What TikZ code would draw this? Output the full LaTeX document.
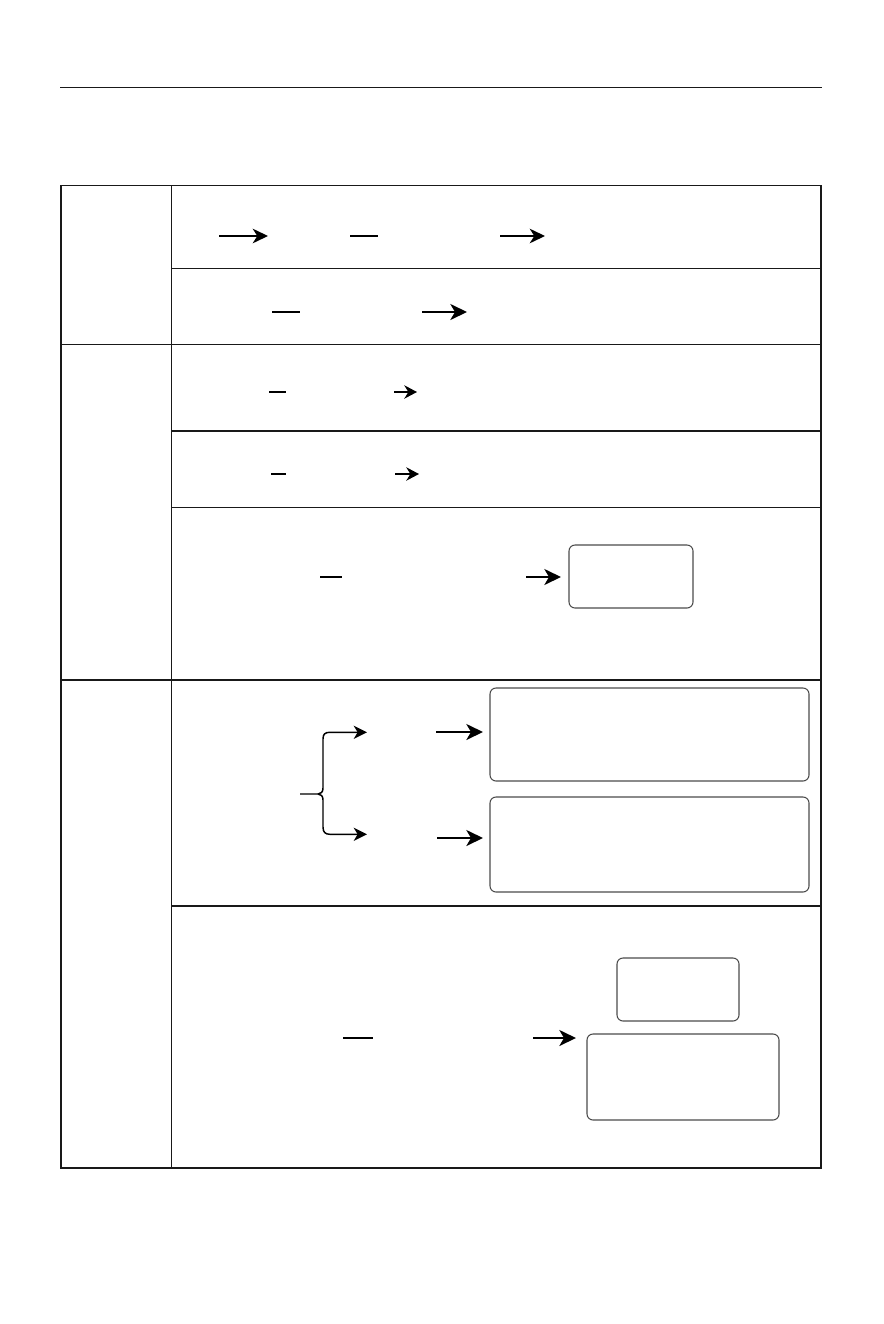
\documentclass[tikz,border=0pt]{standalone}
\usetikzlibrary{arrows.meta}
\begin{document}
\begin{tikzpicture}[x=0.75pt,y=-0.75pt,
  rule/.style={line width=1.1pt,black!90},
  toprule/.style={line width=1pt,black!90},
  box/.style={draw=black!70,line width=0.8pt,rounded corners=4.5pt,inner sep=0pt,outer sep=0pt},
  arr/.style={line width=1.1pt,-{Stealth[length=11.5pt,width=11pt,inset=3.5pt]}},
  arrthick/.style={line width=1.5pt,-{Stealth[length=12.5pt,width=12pt,inset=3.5pt]}},
  arrsmall/.style={line width=1.3pt,-{Stealth[length=9.5pt,width=10pt,inset=3pt]}},
  dashthin/.style={line width=1pt},
  dashthick/.style={line width=1.5pt}]
\useasboundingbox (0,0) rectangle (883,1324);
% top rule
\coordinate (r1) at (60,87.5);
\coordinate (r2) at (821.5,87.5);
\draw[toprule] (r1) -- (r2);
% table
\coordinate (tl) at (61,185.5);
\coordinate (tr) at (821,185.5);
\coordinate (bl) at (61,1168);
\coordinate (br) at (821,1168);
\coordinate (ct) at (171.3,185.5);
\coordinate (cb) at (171.3,1168);
\draw[rule] (tl) -- (tr) -- (br) -- (bl) -- cycle;
\draw[rule] (ct) -- (cb);
\foreach \y in {344.5,680} \draw[rule] (61,\y) -- (821,\y);
\foreach \y in {268.3,431,507.3,906} \draw[rule] (171.3,\y) -- (821,\y);
% row 1
\coordinate (a1s) at (219,236); \coordinate (a1e) at (268,236);
\coordinate (d1s) at (350,236); \coordinate (d1e) at (378,236);
\coordinate (a2s) at (500,236); \coordinate (a2e) at (545,236);
\draw[arr] (a1s) -- (a1e);
\draw[dashthin] (d1s) -- (d1e);
\draw[arr] (a2s) -- (a2e);
% row 1b
\coordinate (d2s) at (272,312); \coordinate (d2e) at (300,312);
\coordinate (a3s) at (422,312); \coordinate (a3e) at (467,312);
\draw[dashthick] (d2s) -- (d2e);
\draw[arrthick] (a3s) -- (a3e);
% row 2
\coordinate (d3s) at (269,392); \coordinate (d3e) at (286,392);
\coordinate (a4s) at (394,392); \coordinate (a4e) at (417,392);
\draw[dashthick] (d3s) -- (d3e);
\draw[arrsmall] (a4s) -- (a4e);
% row 3
\coordinate (d4s) at (271,474); \coordinate (d4e) at (286,474);
\coordinate (a5s) at (395,474); \coordinate (a5e) at (419,474);
\draw[dashthick] (d4s) -- (d4e);
\draw[arrsmall] (a5s) -- (a5e);
% row 4
\node[box,minimum width=124*0.75pt,minimum height=63*0.75pt] (b1) at (631,576.5) {};
\coordinate (d5s) at (320,577); \coordinate (d5e) at (342,577);
\coordinate (a6s) at (526,577);
\draw[dashthick] (d5s) -- (d5e);
\draw[arrthick] (a6s) -- ([xshift=-8*0.75pt]b1.west |- a6s);
% row 5
\node[box,minimum width=319*0.75pt,minimum height=93*0.75pt] (bA) at (649.5,734.5) {};
\node[box,minimum width=319*0.75pt,minimum height=95*0.75pt] (bB) at (649.5,844.5) {};
\coordinate (bs) at (300,794);
\coordinate (bt) at (367,732.3);
\coordinate (bb) at (367,834.3);
\draw[line width=1.1pt,-{Stealth[length=10pt,width=10pt,inset=3pt]}]
  (bs) -- (318,794) .. controls (321,794) and (323,792) .. (323,788)
  -- (323,739) .. controls (323,734) and (325,732.3) .. (330,732.3) -- (bt);
\draw[line width=1.1pt,-{Stealth[length=10pt,width=10pt,inset=3pt]}]
  (318,794) .. controls (321,794) and (323,796) .. (323,800)
  -- (323,827) .. controls (323,832) and (325,834.3) .. (330,834.3) -- (bb);
\coordinate (a7s) at (436,732);
\coordinate (a8s) at (437,838);
\draw[arrthick] (a7s) -- ([xshift=-7*0.75pt]bA.west |- a7s);
\draw[arrthick] (a8s) -- ([xshift=-7*0.75pt]bB.west |- a8s);
% row 6
\node[box,minimum width=122*0.75pt,minimum height=63*0.75pt] (bC) at (678,989.5) {};
\node[box,minimum width=192*0.75pt,minimum height=86*0.75pt] (bD) at (683,1077) {};
\coordinate (d6s) at (343,1038); \coordinate (d6e) at (373,1038);
\coordinate (a9s) at (533,1038);
\draw[dashthick] (d6s) -- (d6e);
\draw[arrthick] (a9s) -- ([xshift=-11*0.75pt]bD.west |- a9s);
\end{tikzpicture}
\end{document}
